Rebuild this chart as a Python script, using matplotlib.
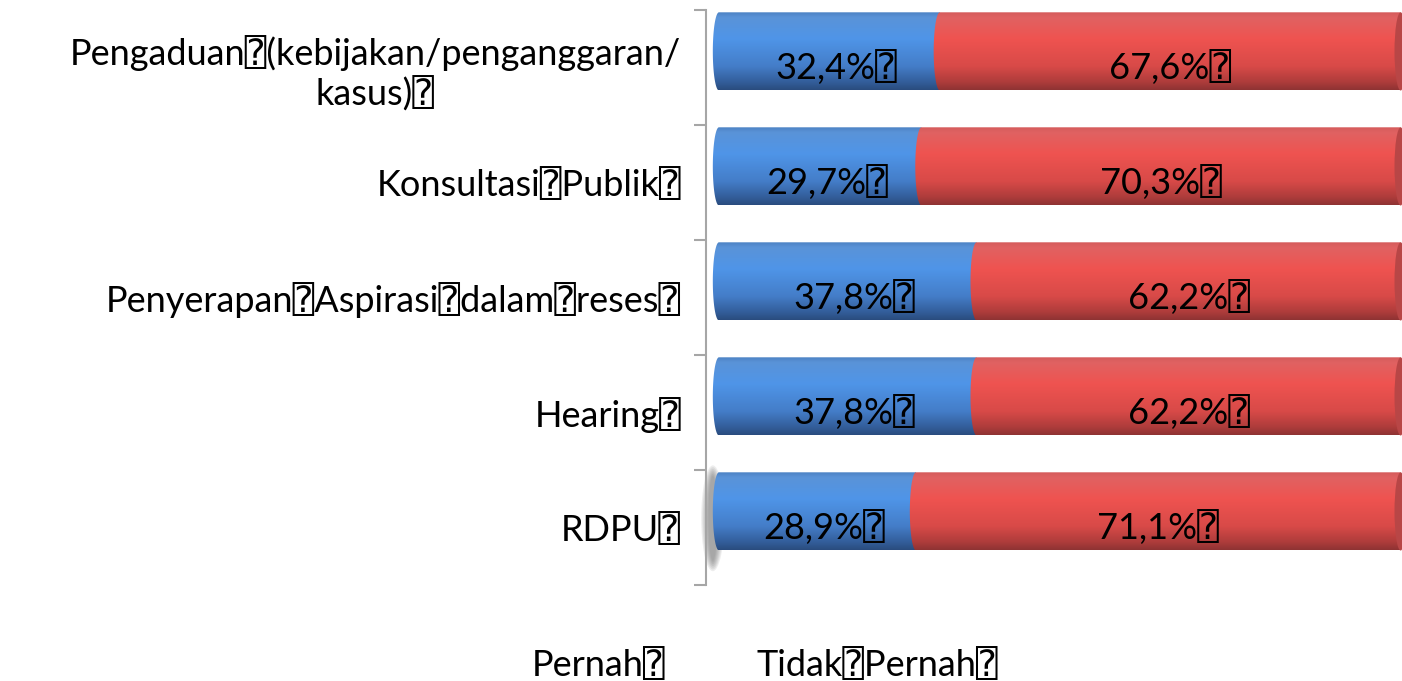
import numpy as np
import matplotlib
matplotlib.use("Agg")
import matplotlib.pyplot as plt
from matplotlib.colors import LinearSegmentedColormap
from matplotlib.path import Path
from matplotlib.patches import PathPatch, Ellipse

# ---- data ----
categories = ["Pengaduan\u2370(kebijakan/penganggaran/\nkasus)\u2370",
              "Konsultasi\u2370Publik\u2370",
              "Penyerapan\u2370Aspirasi\u2370dalam\u2370reses\u2370",
              "Hearing\u2370",
              "RDPU\u2370"]
pernah = [32.4, 29.7, 37.8, 37.8, 28.9]
tidak_pernah = [67.6, 70.3, 62.2, 62.2, 71.1]
series_names = ["Pernah\u2370", "Tidak\u2370Pernah\u2370"]

FAM = ["Lato", "DejaVu Sans", "DejaVu Sans Mono"]
plt.rcParams['font.family'] = FAM

fig = plt.figure(figsize=(14.02, 6.81), dpi=100)
ax = fig.add_axes([706/1402, 96/681, 1 - 706/1402, (585 - 10)/681])

n = len(categories)
pos = np.arange(n)[::-1].astype(float)
off = 0.14
h = 0.68
cap = 0.9

blue_cmap = LinearSegmentedColormap.from_list("b", [
    (0.0, '#4A7FC0'), (0.08, '#5A93D8'), (0.35, '#4F95E8'),
    (0.7, '#447DC8'), (0.9, '#335E9A'), (1.0, '#2A4C7E')])
red_cmap = LinearSegmentedColormap.from_list("r", [
    (0.0, '#D25A5A'), (0.08, '#E06262'), (0.35, '#EF5350'),
    (0.7, '#D84A48'), (0.9, '#AE3C3B'), (1.0, '#8E3333')])

grad = np.linspace(0, 1, 256).reshape(-1, 1)

def cyl(rect, cmap):
    x0 = rect.get_x(); w = rect.get_width()
    y0 = rect.get_y(); hh = rect.get_height()
    x1 = x0 + w
    yc = y0 + hh / 2
    th = np.linspace(0, np.pi, 60)
    ex = x0 - cap * np.sin(th)
    ey = yc + (hh / 2) * np.cos(th)
    verts = list(zip(ex, ey)) + [(x1, y0), (x1, y0 + hh), (ex[0], ey[0])]
    path = Path(verts, closed=True)
    pp = PathPatch(path, facecolor='none', edgecolor='none', transform=ax.transData)
    ax.add_patch(pp)
    im = ax.imshow(grad, cmap=cmap, aspect='auto', origin='upper',
                   extent=(x0 - cap - 0.1, x1, y0, y0 + hh), zorder=3,
                   interpolation='bilinear')
    im.set_clip_path(pp)
    rect.set_visible(False)

b1 = ax.barh(pos + off, pernah, height=h, color='#4F95E8', label=series_names[0])
b2 = ax.barh(pos + off, tidak_pernah, left=pernah, height=h, color='#EF5350',
             label=series_names[1])

# shadow near bottom bar
for k in range(7):
    ax.add_patch(Ellipse((-0.9, pos[-1] + off - 0.06), 3.4 - k * 0.35, h + 0.24 - k * 0.03,
                         facecolor='#707070', alpha=0.12, edgecolor='none', zorder=1,
                         clip_on=False))

for r in b1:
    cyl(r, blue_cmap)
for r in b2:
    cyl(r, red_cmap)
    # right end face
    ax.add_patch(Ellipse((r.get_x() + r.get_width(), r.get_y() + r.get_height() / 2),
                         2 * cap, r.get_height(), facecolor='#B84646', edgecolor='none',
                         zorder=4))

for i in range(n):
    ax.text(pernah[i] / 2 + 1.0, pos[i], f"{pernah[i]:.1f}%".replace('.', ',') + "\u2370",
            ha='center', va='center', fontsize=26, color='black', zorder=6)
    ax.text(pernah[i] + tidak_pernah[i] / 2, pos[i],
            f"{tidak_pernah[i]:.1f}%".replace('.', ',') + "\u2370",
            ha='center', va='center', fontsize=26, color='black', zorder=6)

ax.set_xlim(-1.9, 100.2)
ax.set_ylim(-0.5, n - 0.5)
ax.set_yticks(pos)
ax.set_yticklabels(categories, fontsize=26)
for lab in ax.get_yticklabels():
    lab.set_multialignment('center')
ax.set_yticks(np.arange(-0.5, n, 1.0), minor=True)
ax.tick_params(axis='y', which='major', length=0, pad=18)
ax.tick_params(axis='y', which='minor', length=9, width=1.5, color='#A6A6A6', direction='out')
ax.tick_params(axis='x', bottom=False, labelbottom=False)
for s in ['top', 'right', 'bottom']:
    ax.spines[s].set_visible(False)
ax.spines['left'].set_color('#A6A6A6')
ax.spines['left'].set_linewidth(1.5)
ax.set_facecolor('none')

leg = fig.legend(handles=[b1, b2], labels=series_names, loc='center',
                 bbox_to_anchor=(765/1402, 1 - 665/681), ncol=2, frameon=False,
                 fontsize=26, handlelength=0, handletextpad=0, columnspacing=2.5)
for hd in leg.legend_handles:
    hd.set_visible(False)

fig.savefig("out.png", dpi=100)
